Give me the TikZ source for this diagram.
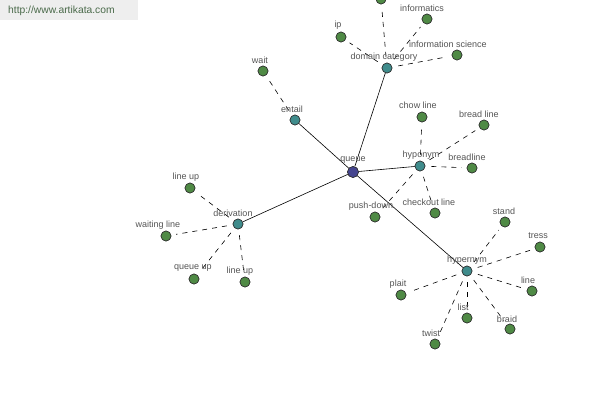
\documentclass[tikz,border=0pt]{standalone}
\usepackage{fontspec}
\setmainfont{Liberation Sans}
\begin{document}
\begin{tikzpicture}[x=1pt,y=-1pt,
  leaf/.style={circle,draw=black!80,fill=leafgreen,inner sep=0pt,minimum size=10pt,line width=0.6pt},
  hub/.style={circle,draw=black!80,fill=hubteal,inner sep=0pt,minimum size=10pt,line width=0.6pt},
  root/.style={circle,draw=black!80,fill=rootblue,inner sep=0pt,minimum size=11pt,line width=0.6pt},
  lbl/.style={text=labelgray,font=\fontsize{9}{10}\selectfont,inner sep=0pt},
  solidedge/.style={draw=black,line width=0.6pt},
  dashedge/.style={draw=black,line width=0.6pt,dashed,dash pattern=on 5pt off 5pt,shorten <=6pt,shorten >=5pt}]
\definecolor{leafgreen}{HTML}{4F8A45}
\definecolor{hubteal}{HTML}{3F8C8C}
\definecolor{rootblue}{HTML}{45458F}
\definecolor{labelgray}{HTML}{555555}
\definecolor{wmgray}{HTML}{EEEEEE}
\definecolor{wmtext}{HTML}{4A6A4A}
\useasboundingbox (0,0) rectangle (600,400);
\clip (0,0) rectangle (600,400);
\fill[white] (0,0) rectangle (600,400);
\fill[wmgray] (0,0) rectangle (138,20);
\node[text=wmtext,font=\fontsize{10.3}{11}\selectfont,anchor=west,inner sep=0pt] (wm) at (8,11) {http://www.artikata.com};
% nodes
\node[root] (queue) at (353,172) {};
\node[hub] (dom) at (387,68) {};
\node[hub] (entail) at (295,120) {};
\node[hub] (hypo) at (420,166) {};
\node[hub] (deriv) at (238,224) {};
\node[hub] (hyper) at (467,271) {};
% leaves
\node[leaf] (top) at (381,-1) {};
\node[leaf] (informatics) at (427,19) {};
\node[leaf] (ip) at (341,37) {};
\node[leaf] (infsci) at (457,55) {};
\node[leaf] (wait) at (263,71) {};
\node[leaf] (chow) at (422,117) {};
\node[leaf] (bread) at (484,125) {};
\node[leaf] (breadline) at (472,168) {};
\node[leaf] (checkout) at (435,213) {};
\node[leaf] (push) at (375,217) {};
\node[leaf] (lineupA) at (190,188) {};
\node[leaf] (waiting) at (166,236) {};
\node[leaf] (queueup) at (194,279) {};
\node[leaf] (lineupB) at (245,282) {};
\node[leaf] (stand) at (505,222) {};
\node[leaf] (tress) at (540,247) {};
\node[leaf] (line) at (532,291) {};
\node[leaf] (braid) at (510,329) {};
\node[leaf] (list) at (467,318) {};
\node[leaf] (twist) at (435,344) {};
\node[leaf] (plait) at (401,295) {};
% edges
\draw[solidedge] (queue) -- (dom);
\draw[solidedge] (queue) -- (entail);
\draw[solidedge] (queue) -- (hypo);
\draw[solidedge] (queue) -- (deriv);
\draw[solidedge] (queue) -- (hyper);
\foreach \a/\b in {dom/top,dom/informatics,dom/ip,dom/infsci,entail/wait,
  hypo/chow,hypo/bread,hypo/breadline,hypo/checkout,hypo/push,
  deriv/lineupA,deriv/waiting,deriv/queueup,deriv/lineupB,
  hyper/stand,hyper/tress,hyper/line,hyper/braid,hyper/list,hyper/twist,hyper/plait}
  \draw[dashedge] (\a) -- (\b);
% redraw nodes on top
\foreach \n in {queue}{\node[root] at (\n) {};}
\foreach \n in {dom,entail,hypo,deriv,hyper}{\node[hub] at (\n) {};}
\foreach \n in {top,informatics,ip,infsci,wait,chow,bread,breadline,checkout,push,lineupA,waiting,queueup,lineupB,stand,tress,line,braid,list,twist,plait}{\node[leaf] at (\n) {};}
% labels
\node[lbl] (lqueue) at (353,160) {queue};
\node[lbl] (ldom) at (384,57) {domain category};
\node[lbl] (lentail) at (292,109) {entail};
\node[lbl] (lhypo) at (421,155) {hyponym};
\node[lbl] (lderiv) at (233,213) {derivation};
\node[lbl] (lhyper) at (467,260) {hypernym};
\node[lbl] (linformatics) at (422,8) {informatics};
\node[lbl] (lip) at (338,25) {ip};
\node[lbl] (linfsci) at (448,44) {information science};
\node[lbl] (lwait) at (260,60) {wait};
\node[lbl] (lchow) at (418,105) {chow line};
\node[lbl] (lbread) at (479,114) {bread line};
\node[lbl] (lbreadline) at (467,157) {breadline};
\node[lbl] (lcheckout) at (429,202) {checkout line};
\node[lbl] (lpush) at (371,206) {push-down};
\node[lbl] (llineupA) at (186,177) {line up};
\node[lbl] (lwaiting) at (158,225) {waiting line};
\node[lbl] (lqueueup) at (193,268) {queue up};
\node[lbl] (llineupB) at (240,271) {line up};
\node[lbl] (lstand) at (504,211) {stand};
\node[lbl] (ltress) at (538,236) {tress};
\node[lbl] (lline) at (528,280) {line};
\node[lbl] (lbraid) at (507,319) {braid};
\node[lbl] (llist) at (463,307) {list};
\node[lbl] (ltwist) at (431,333) {twist};
\node[lbl] (lplait) at (398,284) {plait};
\end{tikzpicture}
\end{document}
